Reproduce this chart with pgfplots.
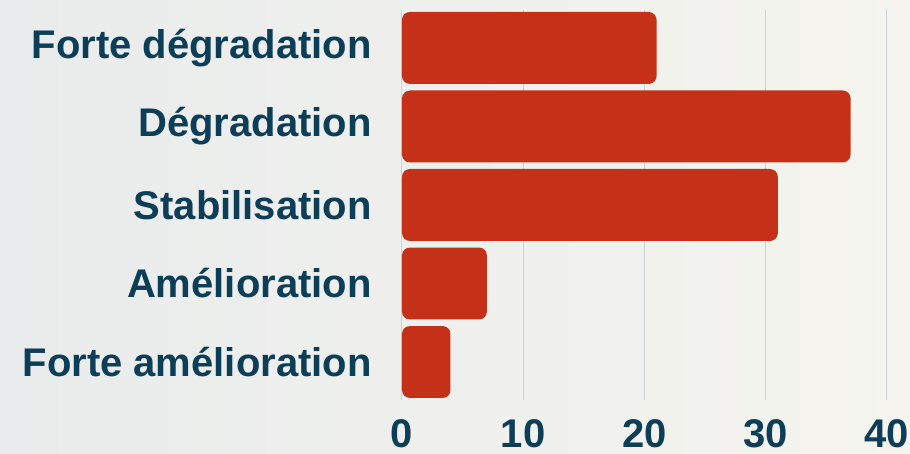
\documentclass[border=0pt]{standalone}
\usepackage{pgfplots}
\usepackage{pgfplotstable}
\pgfplotsset{compat=1.18}
\usepackage{fontspec}
\setmainfont{Liberation Sans}
\definecolor{barred}{HTML}{C43018}
\definecolor{txt}{HTML}{0D3E58}
\definecolor{gridc}{HTML}{C8D3D8}
\definecolor{bgl}{HTML}{E9ECEC}
\definecolor{bgr}{HTML}{F5F4EE}
\pgfplotstableread{
y v
0 4
1 7
2 31
3 37
4 21
}\datatable
\begin{document}
\begin{tikzpicture}
\shade[left color=bgl, right color=bgr] (-201pt,-27pt) rectangle (254pt,200pt);
\begin{axis}[
 scale only axis, width=242.5pt, height=195pt,
 % x axis shifted by one unit so the bars' left rounded corners are clipped away
 xmin=1, xmax=41, ymin=-0.484, ymax=4.484,
 xbar, bar width=0.917, bar shift=0pt,
 axis line style={draw=none},
 xtick={1,11,21,31,41}, xticklabels={0,10,20,30,40},
 ytick={0,1,2,3,4},
 yticklabels={Forte amélioration, Amélioration, Stabilisation, Dégradation, Forte dégradation},
 major tick length=0pt,
 xmajorgrids, grid style={gridc, line width=0.5pt},
 ymajorgrids=false,
 tick label style={font=\fontsize{20}{24}\selectfont\bfseries, text=txt, inner sep=0pt},
 yticklabel style={anchor=east, xshift=-15pt},
 xticklabel style={anchor=north, yshift=-9.5pt},
 clip=true,
]
\addplot[fill=barred, draw=none, rounded corners=4pt] table[x expr=\thisrow{v}+1, y=y] {\datatable};
\end{axis}
\pgfresetboundingbox
\path (-201pt,-27pt) rectangle (254pt,200pt);
\end{tikzpicture}
\end{document}
